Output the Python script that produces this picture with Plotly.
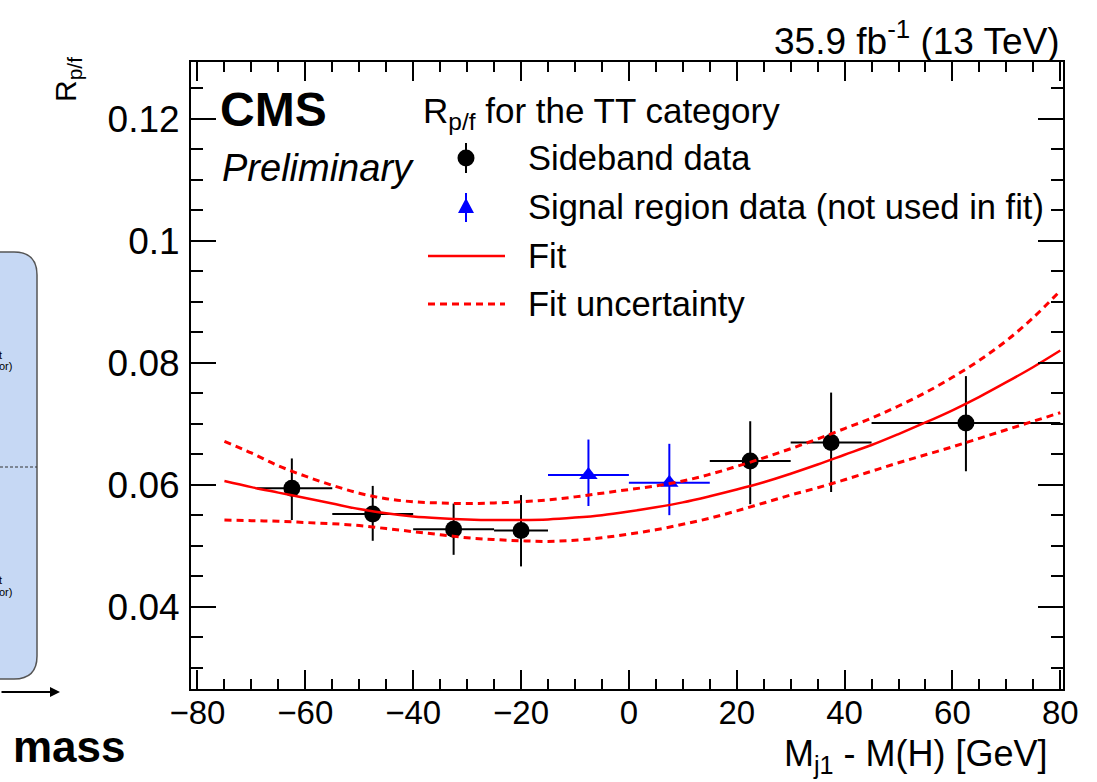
import plotly.graph_objects as go

# sideband data (black points)
sb_x = [-62.5, -47.5, -32.5, -20, 22.5, 37.5, 62.5]
sb_xlo = [-69, -55, -40, -25, 15, 30, 45]
sb_xhi = [-55, -40, -25, -15, 30, 45, 80]
sb_y = [0.0594, 0.0552, 0.0527, 0.0525, 0.0639, 0.0669, 0.0701]
sb_yhi = [0.0643, 0.0598, 0.0569, 0.0583, 0.0704, 0.0751, 0.0778]
sb_ylo = [0.0542, 0.0508, 0.0485, 0.0466, 0.0568, 0.0588, 0.0622]

# signal region data (blue triangles)
sr_x = [-7.5, 7.5]
sr_xlo = [-15, 0]
sr_xhi = [0, 15]
sr_y = [0.0616, 0.0603]
sr_yhi = [0.0674, 0.0667]
sr_ylo = [0.0565, 0.0550]

# fit and its uncertainty band
fit_x = [-75, -70, -65, -60, -55, -50, -45, -40, -35, -30, -25, -20, -15, -10, -5, 0,
         5, 10, 15, 20, 25, 30, 35, 40, 45, 50, 55, 60, 65, 70, 75, 80]
fit_y = [0.0606, 0.0596, 0.0587, 0.0578, 0.0569, 0.0560, 0.0553, 0.0548, 0.0545, 0.0543,
         0.0542, 0.0542, 0.0543, 0.0546, 0.0550, 0.0556, 0.0563, 0.0571, 0.0581, 0.0592,
         0.0604, 0.0618, 0.0633, 0.0649, 0.0665, 0.0683, 0.0702, 0.0722, 0.0744, 0.0768,
         0.0793, 0.0820]
fit_up = [0.0671, 0.0652, 0.0631, 0.0614, 0.0599, 0.0586, 0.0577, 0.0572, 0.0570, 0.0569,
          0.0570, 0.0572, 0.0575, 0.0580, 0.0586, 0.0592, 0.0598, 0.0606, 0.0617, 0.0630,
          0.0644, 0.0659, 0.0675, 0.0692, 0.0709, 0.0729, 0.0751, 0.0776, 0.0804, 0.0836,
          0.0874, 0.0918]
fit_dn = [0.0542, 0.0541, 0.0540, 0.0538, 0.0536, 0.0533, 0.0528, 0.0523, 0.0518, 0.0513,
          0.0510, 0.0508, 0.0507, 0.0509, 0.0513, 0.0519, 0.0526, 0.0535, 0.0545, 0.0557,
          0.0570, 0.0583, 0.0595, 0.0608, 0.0622, 0.0636, 0.0649, 0.0662, 0.0676, 0.0690,
          0.0704, 0.0718]

x_ticks = [-80, -60, -40, -20, 0, 20, 40, 60, 80]
y_ticks = [0.04, 0.06, 0.08, 0.1, 0.12]
y_ticktext = ["0.04", "0.06", "0.08", "0.1", "0.12"]

FONT = "Liberation Sans, Arial, Helvetica, sans-serif"
W, H = 1097, 782
L, R, T, B = 191, 1063, 62, 689


def px(x):
    return (x - L) / (R - L)


def py(y):
    return (B - y) / (B - T)


fig = go.Figure()

fig.add_trace(go.Scatter(
    x=sb_x, y=sb_y, mode="markers",
    marker=dict(symbol="circle", size=17, color="black"),
    error_x=dict(type="data", symmetric=False,
                 array=[h - x for h, x in zip(sb_xhi, sb_x)],
                 arrayminus=[x - l for l, x in zip(sb_xlo, sb_x)],
                 color="black", thickness=2, width=0),
    error_y=dict(type="data", symmetric=False,
                 array=[h - y for h, y in zip(sb_yhi, sb_y)],
                 arrayminus=[y - l for l, y in zip(sb_ylo, sb_y)],
                 color="black", thickness=2, width=0),
    showlegend=False))

fig.add_trace(go.Scatter(
    x=sr_x, y=sr_y, mode="markers",
    marker=dict(symbol="triangle-up", size=16, color="#0000ff"),
    error_x=dict(type="data", symmetric=False,
                 array=[h - x for h, x in zip(sr_xhi, sr_x)],
                 arrayminus=[x - l for l, x in zip(sr_xlo, sr_x)],
                 color="#0000ff", thickness=2, width=0),
    error_y=dict(type="data", symmetric=False,
                 array=[h - y for h, y in zip(sr_yhi, sr_y)],
                 arrayminus=[y - l for l, y in zip(sr_ylo, sr_y)],
                 color="#0000ff", thickness=2, width=0),
    showlegend=False))

fig.add_trace(go.Scatter(x=fit_x, y=fit_up, mode="lines", line_shape="spline",
                         line=dict(color="red", width=3, dash="7px,5px"), showlegend=False))
fig.add_trace(go.Scatter(x=fit_x, y=fit_dn, mode="lines", line_shape="spline",
                         line=dict(color="red", width=3, dash="7px,5px"), showlegend=False))
fig.add_trace(go.Scatter(x=fit_x, y=fit_y, mode="lines", line_shape="spline",
                         line=dict(color="red", width=2.5), showlegend=False))

axis_common = dict(showgrid=False, zeroline=False, showline=True, linecolor="black",
                   linewidth=2, mirror="allticks", ticks="inside", tickwidth=2,
                   tickcolor="black")

fig.update_xaxes(range=[-81.2, 80.5], tickvals=x_ticks, ticklen=19, ticklabelstandoff=-7,
                 tickfont=dict(family=FONT, size=33, color="black"),
                 minor=dict(ticks="inside", dtick=5, ticklen=10, tickwidth=2, tickcolor="black"),
                 **axis_common)
fig.update_yaxes(range=[0.0265, 0.1293], tickvals=y_ticks, ticktext=y_ticktext, ticklen=25,
                 ticklabelstandoff=2, tickfont=dict(family=FONT, size=37, color="black"),
                 minor=dict(ticks="inside", dtick=0.005, ticklen=12, tickwidth=2, tickcolor="black"),
                 **axis_common)

ann = []


def text(x, y, s, size, anchor="left", **kw):
    ann.append(dict(x=px(x), y=py(y), xref="paper", yref="paper", text=s, showarrow=False,
                    xanchor=anchor, yanchor="middle",
                    font=dict(family=FONT, size=size, color="black"), **kw))


text(1062, 38, "35.9 fb<sup>-1</sup> (13 TeV)", 37, "right")
text(1050, 756, "M<sub>j1</sub> - M(H) [GeV]", 36, "right")
text(218, 110, "<b>CMS</b>", 48)
text(220, 168, "<i>Preliminary</i>", 38)
ann.append(dict(x=px(67), y=py(80), xref="paper", yref="paper", text="R<sub>p/f</sub>",
                showarrow=False, textangle=-90, xanchor="center", yanchor="middle",
                font=dict(family=FONT, size=30, color="black")))

# legend
text(421, 113, "R<sub>p/f</sub> for the TT category", 35)
text(526, 158, "Sideband data", 34.5)
text(526, 207, "Signal region data (not used in fit)", 34.5)
text(526, 256, "Fit", 34.5)
text(526, 304, "Fit uncertainty", 34.5)

shapes = [
    dict(type="line", xref="paper", yref="paper", x0=px(466), x1=px(466), y0=py(143), y1=py(173),
         line=dict(color="black", width=2)),
    dict(type="circle", xref="paper", yref="paper", x0=px(457.5), x1=px(474.5), y0=py(149.5),
         y1=py(166.5), fillcolor="black", line=dict(color="black", width=0)),
    dict(type="line", xref="paper", yref="paper", x0=px(466), x1=px(466), y0=py(193), y1=py(222),
         line=dict(color="#0000ff", width=2)),
    dict(type="path", xref="paper", yref="paper",
         path=f"M {px(466)},{py(198)} L {px(458)},{py(213)} L {px(474)},{py(213)} Z",
         fillcolor="#0000ff", line=dict(color="#0000ff", width=0)),
    dict(type="line", xref="paper", yref="paper", x0=px(428), x1=px(505), y0=py(256), y1=py(256),
         line=dict(color="red", width=2.5)),
    dict(type="line", xref="paper", yref="paper", x0=px(428), x1=px(505), y0=py(304), y1=py(304),
         line=dict(color="red", width=3, dash="7px,5px")),
]

# piece of the neighbouring figure on the left
rx, top, bot, rad = 37, 252, 679, 23
shapes.append(dict(
    type="path", xref="paper", yref="paper",
    path=(f"M {px(-40)},{py(top)} L {px(rx - rad)},{py(top)} "
          f"Q {px(rx)},{py(top)} {px(rx)},{py(top + rad)} L {px(rx)},{py(bot - rad)} "
          f"Q {px(rx)},{py(bot)} {px(rx - rad)},{py(bot)} L {px(-40)},{py(bot)} Z"),
    fillcolor="#c6d8f4", line=dict(color="#555555", width=1.5), layer="below"))
shapes.append(dict(type="line", xref="paper", yref="paper", x0=px(0), x1=px(37), y0=py(467),
                   y1=py(467), line=dict(color="#333333", width=1, dash="3px,2px")))

ann.append(dict(x=px(60), y=py(692), xref="paper", yref="paper", text="", showarrow=True,
                ax=-70, ay=0, arrowhead=2, arrowsize=1, arrowwidth=2, arrowcolor="black"))
text(128, 746, "<b>mass</b>", 44, "right")
text(4, 355, "t", 11, "right")
text(14, 366, "or)", 11, "right")
text(4, 580, "t", 11, "right")
text(14, 592, "or)", 11, "right")

fig.update_layout(width=W, height=H, margin=dict(l=L, r=W - R, t=T, b=H - B),
                  plot_bgcolor="white", paper_bgcolor="white", showlegend=False,
                  annotations=ann, shapes=shapes, font=dict(family=FONT))

fig.write_html("out.html", config={"displayModeBar": False},
               post_script="document.body.style.margin = '0';")
